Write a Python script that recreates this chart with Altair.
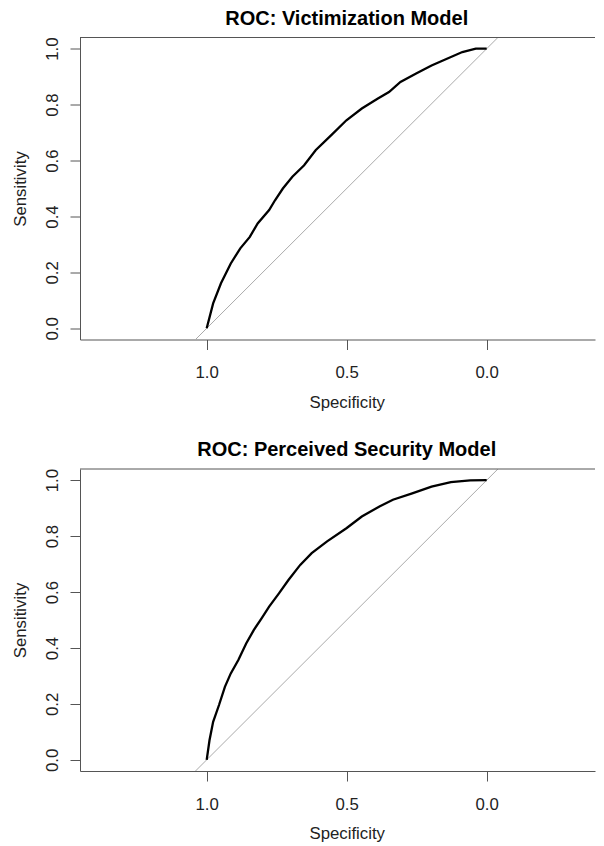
import altair as alt
import pandas as pd

# ---- data ----
titles = ["ROC: Victimization Model", "ROC: Perceived Security Model"]

spec_vict = [1.0, 0.977, 0.949, 0.914, 0.880, 0.846, 0.818, 0.777, 0.756, 0.728,
             0.694, 0.652, 0.611, 0.556, 0.501, 0.446, 0.390, 0.349, 0.308, 0.252,
             0.197, 0.142, 0.087, 0.039, 0.0]
sens_vict = [0.0, 0.089, 0.161, 0.232, 0.286, 0.327, 0.375, 0.423, 0.458, 0.500,
             0.542, 0.583, 0.637, 0.690, 0.744, 0.786, 0.821, 0.845, 0.881, 0.911,
             0.940, 0.964, 0.988, 1.0, 1.0]

spec_perc = [1.0, 0.990, 0.977, 0.956, 0.935, 0.914, 0.887, 0.859, 0.832, 0.804,
             0.777, 0.742, 0.708, 0.666, 0.625, 0.570, 0.501, 0.446, 0.383, 0.335,
             0.266, 0.197, 0.128, 0.059, 0.0]
sens_perc = [0.0, 0.070, 0.136, 0.196, 0.261, 0.309, 0.357, 0.416, 0.464, 0.506,
             0.548, 0.595, 0.643, 0.697, 0.739, 0.781, 0.828, 0.870, 0.906, 0.930,
             0.953, 0.977, 0.993, 0.999, 1.0]

diag_spec = [1.04, -0.04]
diag_sens = [-0.04, 1.04]

x_ticks = [1.0, 0.5, 0.0]
y_ticks = [0.0, 0.2, 0.4, 0.6, 0.8, 1.0]

W, H = 515, 302
X_DOMAIN = [1.4525 - W / 280.0, 1.4525]
Y_DOMAIN = [-0.04, 1.04]
FONT = "Liberation Sans"


def panel(title, spec, sens):
    df = pd.DataFrame({"Specificity": spec, "Sensitivity": sens,
                       "i": list(range(len(spec)))})
    ddf = pd.DataFrame({"Specificity": diag_spec, "Sensitivity": diag_sens,
                        "i": [0, 1]})
    tdf = pd.DataFrame({"t": [title]})
    xs = alt.Scale(domain=X_DOMAIN, reverse=True, nice=False, zero=False)
    ys = alt.Scale(domain=Y_DOMAIN, nice=False, zero=False)
    xaxis = alt.Axis(values=x_ticks, format=".1f", title="Specificity",
                     tickSize=10, labelPadding=28, labelBaseline="alphabetic",
                     labelFlush=False, labelOverlap=False,
                     titleX=266.7, titleY=67.5, titleBaseline="alphabetic",
                     titleAlign="center")
    yaxis = alt.Axis(values=y_ticks, format=".1f", title="Sensitivity",
                     tickSize=10, labelPadding=12.3, labelAngle=270,
                     labelAlign="center", labelBaseline="alphabetic",
                     labelFlush=False, labelOverlap=False,
                     titleAngle=270, titleX=-54.5, titleY=151,
                     titleBaseline="alphabetic", titleAlign="center")
    enc = dict(
        x=alt.X("Specificity:Q", scale=xs, axis=xaxis),
        y=alt.Y("Sensitivity:Q", scale=ys, axis=yaxis),
        order=alt.Order("i:Q"),
    )
    diag = alt.Chart(ddf).mark_line(color="#aaaaaa", strokeWidth=1, clip=True).encode(**enc)
    curve = alt.Chart(df).mark_line(color="black", strokeWidth=2.3, clip=True).encode(**enc)
    frame = alt.Chart(alt.Data(values=[{}])).mark_rule(color="#555555", strokeWidth=1).encode(
        x=alt.value(0), x2=alt.value(W), y=alt.value(0))
    head = alt.Chart(tdf).mark_text(
        font=FONT, fontSize=20, fontWeight="bold", color="black",
        align="center", baseline="alphabetic").encode(
        text="t:N", x=alt.value(266.7), y=alt.value(-12.8))
    # invisible marker fixing the left page offset of the plot frame
    pin = alt.Chart(alt.Data(values=[{}])).mark_rule(
        color="white", strokeOpacity=0, strokeWidth=0).encode(
        x=alt.value(-72), x2=alt.value(-71), y=alt.value(150))
    return alt.layer(diag, curve, frame, head, pin).properties(width=W, height=H)


chart = alt.vconcat(
    panel(titles[0], spec_vict, sens_vict),
    panel(titles[1], spec_perc, sens_perc),
    spacing=129.5, bounds="flush",
).properties(
    padding={"left": 0, "top": 0.5, "right": 0, "bottom": 0},
).configure_view(stroke=None).configure_axis(
    grid=False, domainColor="#555555", tickColor="#555555",
    domainWidth=1, tickWidth=1,
    labelColor="#222222", titleColor="#222222",
    labelFont=FONT, labelFontSize=16.8,
    titleFont=FONT, titleFontSize=16.8, titleFontWeight="normal",
)

chart.save("out.html", embed_options={"renderer": "svg", "actions": False})
